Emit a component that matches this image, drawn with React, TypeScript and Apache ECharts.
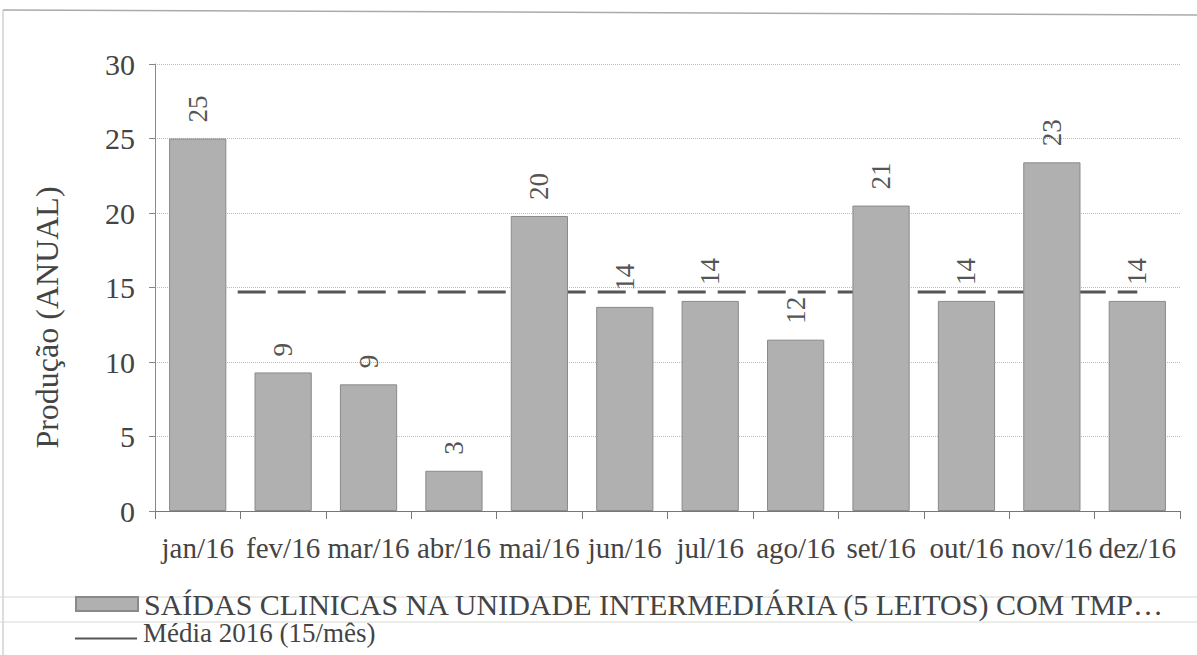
import React, { useEffect, useRef } from "react";
import * as echarts from "echarts";

const categories = ["jan/16", "fev/16", "mar/16", "abr/16", "mai/16", "jun/16", "jul/16", "ago/16", "set/16", "out/16", "nov/16", "dez/16"];
const saidas = [25, 9.3, 8.5, 2.7, 19.8, 13.7, 14.1, 11.5, 20.5, 14.1, 23.4, 14.1];
const media = [14.7, 14.7, 14.7, 14.7, 14.7, 14.7, 14.7, 14.7, 14.7, 14.7, 14.7, 14.7];
const barName = "SAÍDAS CLINICAS NA UNIDADE INTERMEDIÁRIA (5 LEITOS) COM TMP…";
const lineName = "Média 2016 (15/mês)";
const yName = "Produção (ANUAL)";
const yTicks = { min: 0, max: 30, interval: 5 };

const FONT = "Liberation Serif";

export default function App() {
  const ref = useRef<HTMLDivElement>(null);
  useEffect(() => {
    if (!ref.current) return;
    const chart = echarts.init(ref.current, null, { renderer: "svg" });
    chart.setOption({
      animation: false,
      backgroundColor: "#fff",
      textStyle: { fontFamily: FONT },
      graphic: [
        { type: "line", shape: { x1: 3, y1: 10, x2: 1197, y2: 15 }, style: { stroke: "#aaa", lineWidth: 1.5 } },
        { type: "line", shape: { x1: 3, y1: 10, x2: 3, y2: 655 }, style: { stroke: "#bbb", lineWidth: 1 } },
        { type: "line", shape: { x1: 0, y1: 597, x2: 1197, y2: 597 }, style: { stroke: "#d8d8d0", lineWidth: 1 } },
        { type: "line", shape: { x1: 0, y1: 622, x2: 1197, y2: 622 }, style: { stroke: "#d8d8d0", lineWidth: 1 } },
      ],
      grid: { left: 155, right: 17, top: 64, bottom: 144, containLabel: false },
      legend: [
        {
          orient: "vertical",
          left: 70,
          top: 584,
          itemWidth: 62,
          itemHeight: 14,
          itemGap: 0,
          data: [{ name: barName, icon: "rect" }],
          textStyle: { fontFamily: FONT, fontSize: 30, lineHeight: 24, color: "#444", width: 1040, overflow: "truncate", padding: [0, 0, 0, 1] },
        },
        {
          orient: "vertical",
          left: 70,
          top: 614,
          itemWidth: 62,
          itemHeight: 14,
          data: [{ name: lineName, icon: "path://M0,0 L62,0 L62,0.05 Z M0,12 L62,12 L62,14 L0,14 Z", itemStyle: { color: "#555" } }],
          textStyle: { fontFamily: FONT, fontSize: 27, lineHeight: 24, color: "#444", padding: [0, 0, 0, 1] },
        },
      ],
      xAxis: {
        type: "category",
        data: categories,
        axisLine: { lineStyle: { color: "#777", width: 1 } },
        axisTick: { show: true, length: 8, lineStyle: { color: "#777" } },
        axisLabel: { fontFamily: FONT, fontSize: 29, color: "#444", margin: 22, interval: 0 },
      },
      yAxis: {
        type: "value",
        min: yTicks.min,
        max: yTicks.max,
        interval: yTicks.interval,
        name: yName,
        nameLocation: "middle",
        nameGap: 92,
        nameTextStyle: { fontFamily: FONT, fontSize: 32, color: "#444", padding: [0, 60, 0, 0] },
        axisLine: { show: true, lineStyle: { color: "#888" } },
        axisTick: { show: true, length: 6, lineStyle: { color: "#888" } },
        axisLabel: { fontFamily: FONT, fontSize: 30, color: "#444", margin: 20 },
        splitLine: { lineStyle: { color: "#bbb", type: "dotted", width: 1 } },
      },
      series: [
        {
          name: lineName,
          type: "line",
          data: media,
          z: 1,
          symbol: "none",
          lineStyle: { color: "#555", width: 3, type: [28, 12] },
          itemStyle: { color: "#555" },
        },
        {
          name: barName,
          type: "bar",
          data: saidas,
          z: 3,
          barCategoryGap: "33%",
          itemStyle: { color: "#b0b0b0", borderColor: "#8a8a8a", borderWidth: 1 },
          label: {
            show: true,
            position: "top",
            rotate: 90,
            distance: 16,
            align: "left",
            verticalAlign: "middle",
            color: "#555",
            fontFamily: FONT,
            fontSize: 27,
            formatter: (p: any) => String(Math.round(p.value)),
          },
        },
      ],
    });
    return () => chart.dispose();
  }, []);
  return <div ref={ref} style={{ width: 1197, height: 655, position: "absolute", left: 0, top: 0 }} />;
}
